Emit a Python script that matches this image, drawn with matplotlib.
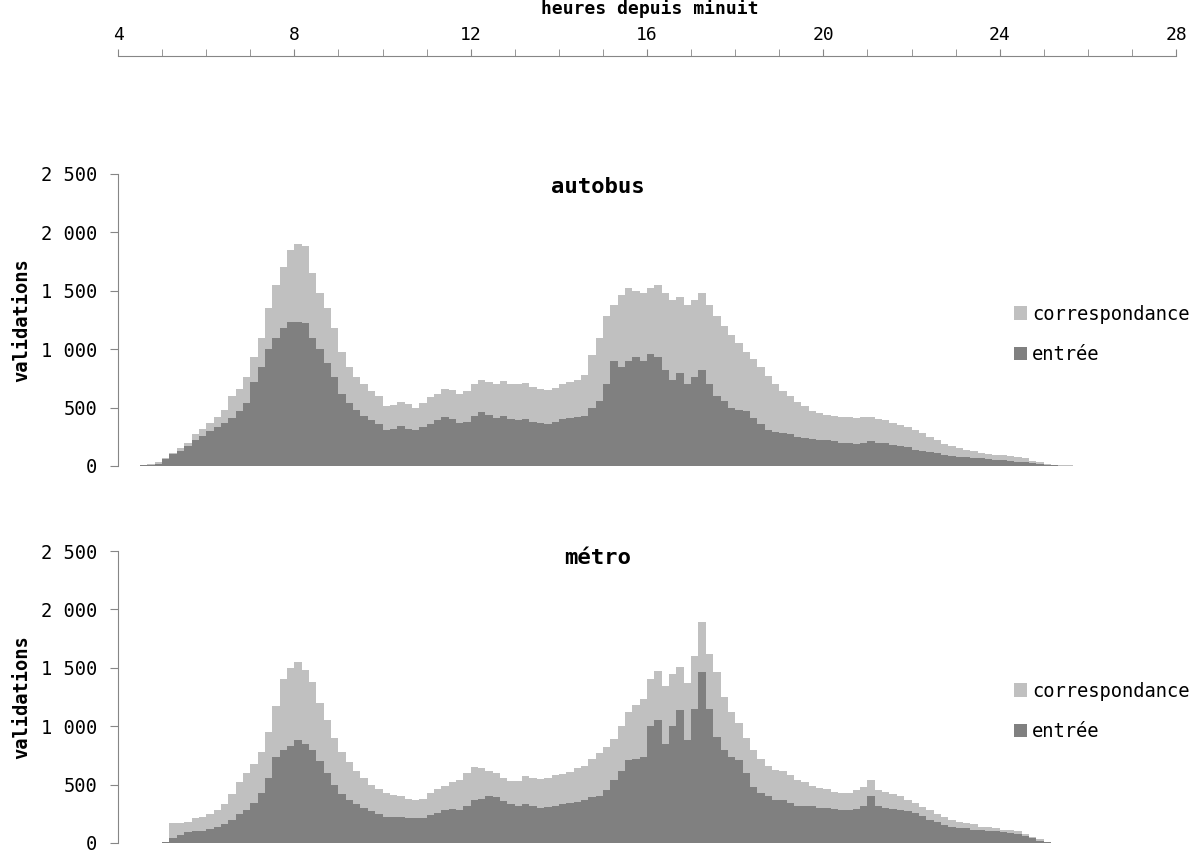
import numpy as np
import matplotlib.pyplot as plt
from matplotlib.ticker import FuncFormatter, MultipleLocator

plt.rcParams['font.family'] = ['DejaVu Sans Mono']

# 10-minute bins from 4:00 to 28:00 (hours since midnight)
heures = np.arange(4 * 60, 28 * 60, 10) / 60.0

# autobus : entrées and total (entrée + correspondance), one row per hour
autobus_entree = np.array([
    0, 0, 0, 5, 10, 20,
    60, 100, 130, 170, 220, 260,
    300, 330, 370, 410, 470, 540,
    720, 850, 1000, 1100, 1180, 1230,
    1230, 1220, 1100, 1000, 880, 760,
    620, 540, 480, 430, 390, 360,
    310, 320, 340, 320, 310, 330,
    360, 390, 420, 400, 370, 380,
    430, 460, 440, 410, 430, 400,
    390, 400, 380, 370, 360, 380,
    400, 410, 420, 430, 500, 560,
    700, 900, 850, 900, 930, 900,
    960, 930, 820, 740, 800, 700,
    760, 820, 700, 600, 560, 500,
    480, 470, 410, 360, 310, 290,
    280, 270, 250, 240, 230, 225,
    220, 210, 200, 195, 190, 200,
    210, 200, 195, 180, 170, 160,
    140, 130, 120, 110, 95, 85,
    80, 75, 70, 65, 60, 55,
    50, 45, 35, 30, 22, 18,
    10, 6, 4, 3, 2, 2,
    2, 1, 2, 1, 2, 1,
    1, 2, 1, 1, 2, 0,
])
autobus_total = np.array([
    0, 0, 2, 8, 15, 30,
    70, 115, 150, 200, 270, 320,
    370, 420, 480, 600, 660, 760,
    930, 1100, 1350, 1550, 1700, 1850,
    1900, 1880, 1650, 1480, 1350, 1180,
    980, 850, 760, 700, 640, 600,
    510, 520, 550, 530, 500, 540,
    590, 620, 660, 650, 620, 640,
    700, 740, 720, 700, 730, 700,
    700, 710, 680, 660, 650, 670,
    700, 720, 740, 780, 950, 1100,
    1280, 1380, 1460, 1520, 1500, 1480,
    1520, 1550, 1480, 1420, 1450, 1380,
    1420, 1480, 1380, 1280, 1200, 1120,
    1050, 980, 920, 850, 770, 700,
    640, 600, 550, 510, 470, 450,
    440, 430, 420, 420, 410, 420,
    420, 400, 390, 370, 350, 330,
    310, 280, 250, 220, 190, 170,
    150, 140, 125, 110, 100, 95,
    90, 85, 80, 65, 45, 35,
    20, 12, 8, 5, 4, 4,
    4, 3, 4, 3, 3, 3,
    3, 4, 3, 3, 4, 0,
])

# métro
metro_entree = np.array([
    0, 0, 0, 0, 0, 0,
    5, 40, 70, 90, 100, 105,
    120, 140, 160, 200, 250, 280,
    340, 430, 560, 740, 800, 830,
    880, 850, 800, 700, 600, 500,
    420, 370, 330, 300, 270, 250,
    225, 220, 220, 215, 210, 215,
    240, 260, 285, 290, 285, 320,
    370, 380, 400, 390, 360, 330,
    320, 330, 320, 300, 310, 320,
    330, 340, 350, 370, 390, 400,
    450, 540, 620, 710, 720, 740,
    1000, 1050, 850, 1000, 1140, 880,
    1150, 1460, 1150, 910, 800, 740,
    710, 600, 480, 430, 400, 370,
    370, 340, 315, 320, 315, 300,
    300, 290, 285, 280, 290, 320,
    400, 315, 300, 290, 280, 270,
    255, 230, 200, 180, 150, 140,
    130, 125, 115, 110, 105, 100,
    90, 85, 75, 60, 40, 20,
    5, 0, 0, 0, 0, 0,
    0, 0, 0, 0, 0, 0,
    0, 0, 0, 0, 0, 0,
])
metro_total = np.array([
    0, 0, 0, 0, 0, 0,
    10, 170, 175, 180, 210, 225,
    250, 280, 330, 420, 520, 600,
    680, 780, 950, 1170, 1400, 1500,
    1550, 1480, 1380, 1200, 1050, 900,
    780, 690, 620, 560, 500, 460,
    430, 410, 400, 380, 370, 380,
    430, 460, 490, 520, 540, 600,
    650, 640, 620, 600, 560, 530,
    530, 570, 560, 550, 560, 580,
    590, 610, 640, 660, 720, 770,
    820, 890, 1000, 1120, 1180, 1230,
    1400, 1470, 1340, 1450, 1510, 1370,
    1600, 1890, 1620, 1460, 1250, 1120,
    1030, 900, 800, 720, 660, 625,
    620, 580, 540, 520, 490, 470,
    460, 440, 430, 430, 450, 480,
    540, 455, 440, 420, 400, 370,
    340, 310, 280, 250, 220, 200,
    180, 170, 160, 140, 135, 125,
    115, 110, 100, 80, 55, 30,
    8, 0, 0, 0, 0, 0,
    0, 0, 0, 0, 0, 0,
    0, 0, 0, 0, 0, 0,
])

c_entree = '#808080'
c_corresp = '#c0c0c0'
c_axis = '#868686'
fs = 13.5

fig = plt.figure(figsize=(11.96, 8.5), dpi=100)

# hour scale on top
axh = fig.add_axes([0.0987, 0.934, 0.8846, 0.0001])
for s in ['left', 'right', 'bottom']:
    axh.spines[s].set_visible(False)
axh.spines['top'].set_color(c_axis)
axh.set_yticks([])
axh.set_xlim(4, 28)
axh.xaxis.set_major_locator(MultipleLocator(4))
axh.xaxis.set_minor_locator(MultipleLocator(1))
axh.xaxis.tick_top()
axh.tick_params(axis='x', which='both', direction='out', length=5, color=c_axis,
                labelsize=13, pad=4)
fig.text(0.5434, 1 - 9 / 850, 'heures depuis minuit', fontsize=13,
         fontweight='bold', ha='center', va='center')

fmt = FuncFormatter(lambda v, p: f'{int(v):,}'.replace(',', ' '))


def panel(rect, entree, total, titre, title_y):
    ax = fig.add_axes(rect)
    corresp = total - entree
    ax.bar(heures, entree, width=1 / 6, align='edge', color=c_entree,
           linewidth=0, label='entrée')
    ax.bar(heures, corresp, bottom=entree, width=1 / 6, align='edge',
           color=c_corresp, linewidth=0, label='correspondance')
    ax.set_xlim(4, 28)
    ax.set_ylim(0, 2500)
    ax.yaxis.set_major_locator(MultipleLocator(500))
    ax.yaxis.set_major_formatter(fmt)
    for s in ['top', 'right', 'bottom']:
        ax.spines[s].set_visible(False)
    ax.spines['left'].set_color(c_axis)
    ax.set_xticks([])
    ax.tick_params(axis='y', direction='out', length=6, color=c_axis,
                   labelsize=fs, pad=9)
    ax.set_ylabel('validations', fontsize=fs, fontweight='bold', labelpad=7)
    fig.text(0.5, title_y, titre, fontsize=16, fontweight='bold',
             ha='center', va='center')
    h, l = ax.get_legend_handles_labels()
    ax.legend(h[::-1], l[::-1], loc='upper left', bbox_to_anchor=(0.847, 0.553),
              frameon=False, fontsize=fs, handlelength=0.7, handleheight=0.7,
              handletextpad=0.25, labelspacing=1.15, borderaxespad=0, borderpad=0)
    return ax


panel([0.0987, 0.4518, 0.8846, 0.3435], autobus_entree, autobus_total,
      'autobus', 1 - 187 / 850)
panel([0.0987, 0.00824, 0.8846, 0.3435], metro_entree, metro_total,
      'métro', 1 - 558 / 850)

fig.savefig('out.png', dpi=100)
